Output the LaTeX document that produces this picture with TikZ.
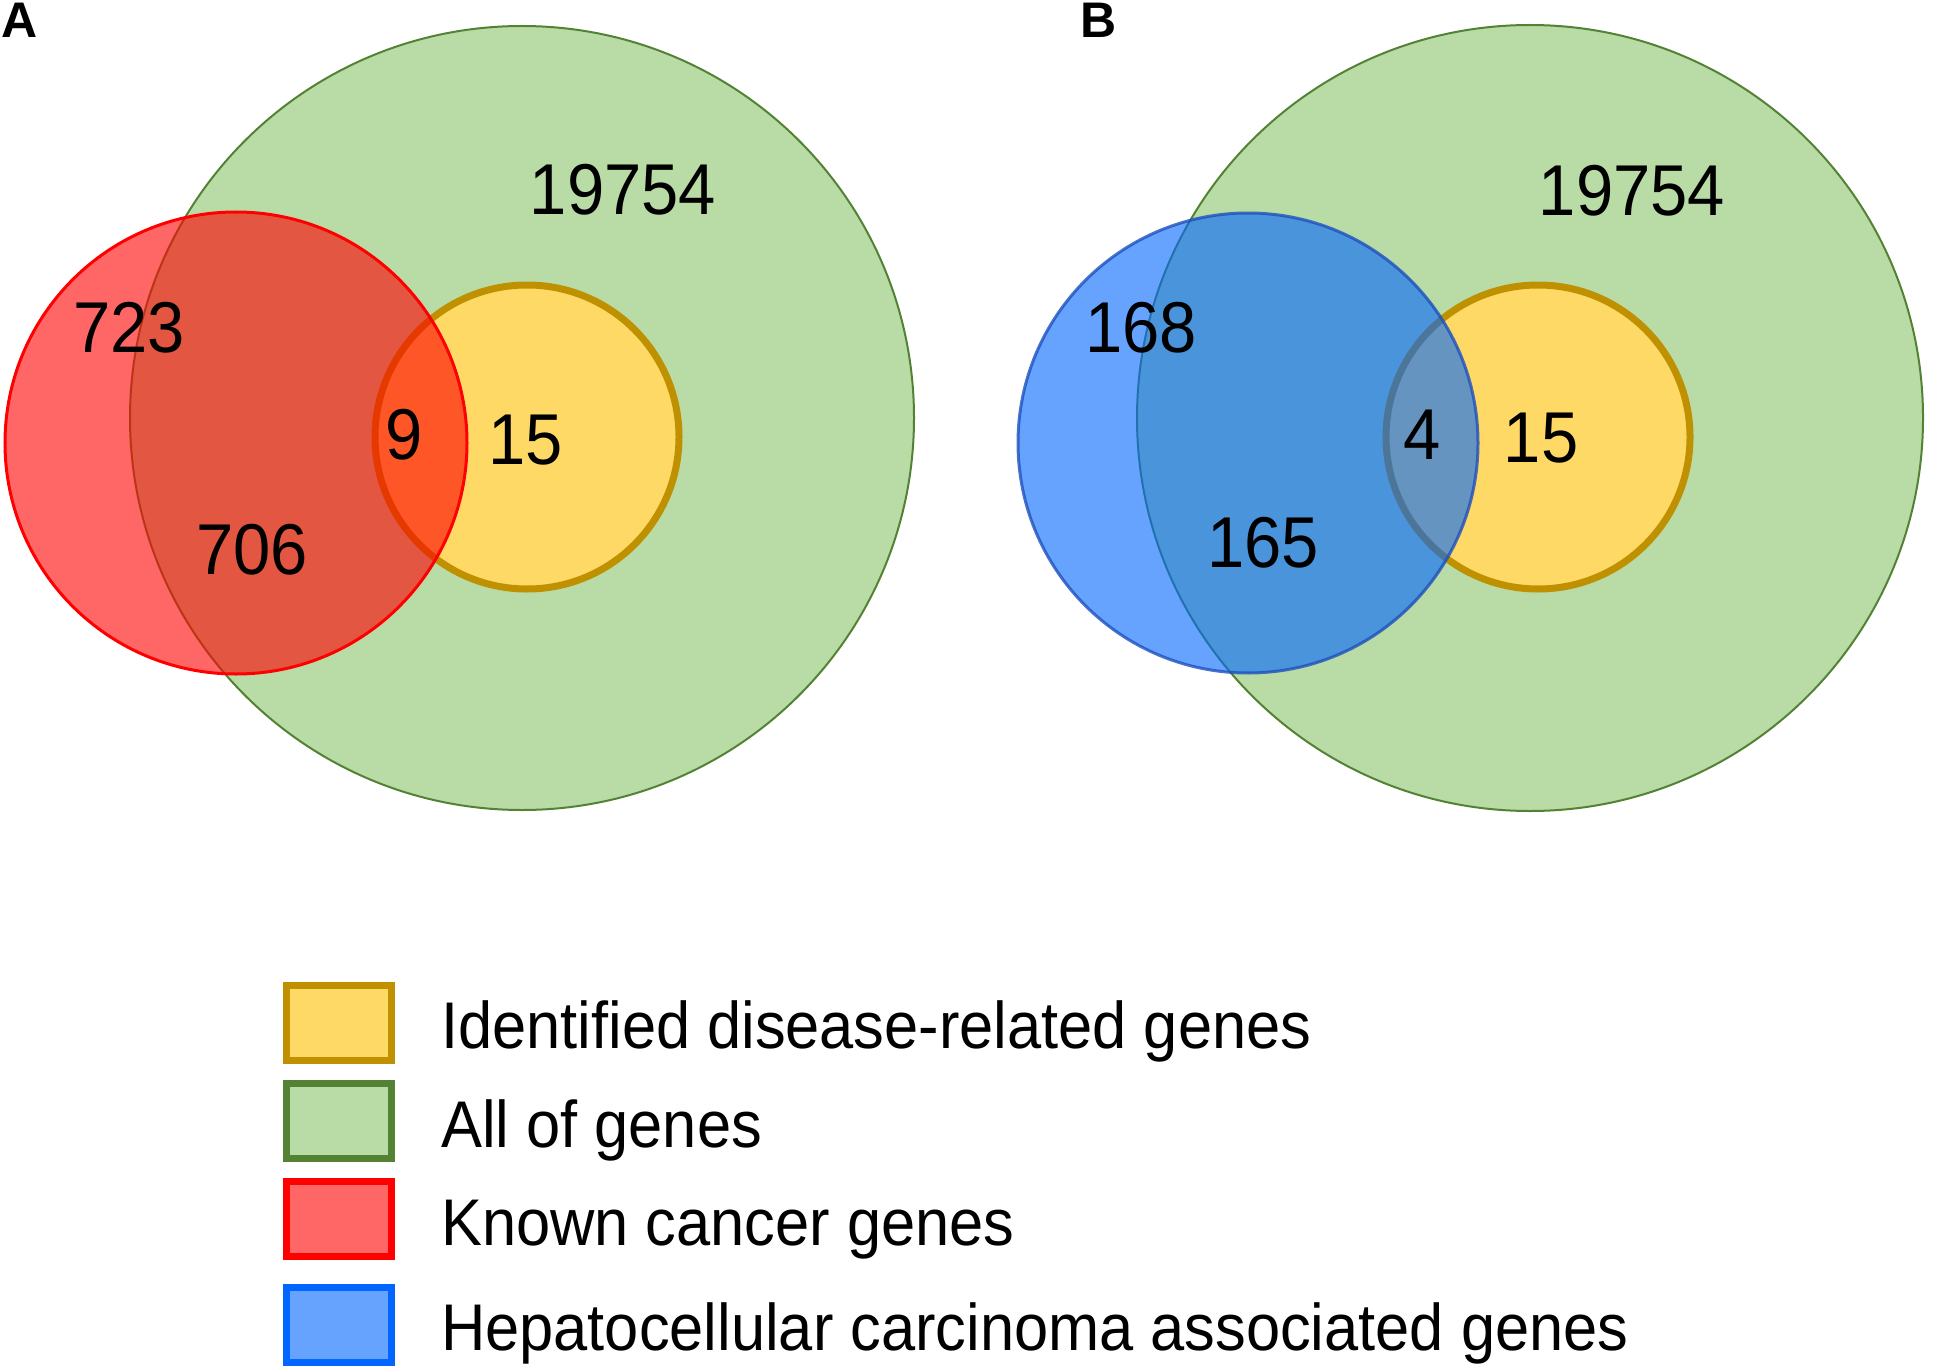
\documentclass[tikz,border=0pt]{standalone}
\usepackage{fontspec}
\setmainfont{Liberation Sans}[FakeStretch=0.93]
\newfontfamily\panelfont{Liberation Sans}
\usepackage{tikz}
\definecolor{all-color}{RGB}{185,219,166}
\definecolor{all-line}{RGB}{84,130,53}
\definecolor{found-color}{RGB}{255,217,102}
\definecolor{found-line}{RGB}{191,144,0}
\definecolor{cancer-color}{RGB}{255,0,0}
\definecolor{hcc-color}{RGB}{0,102,255}
\definecolor{hcc-line}{RGB}{30,80,190}

\tikzset{
  count/.style={inner sep=0pt, font=\fontsize{72}{80}\selectfont},
  panel/.style={inner sep=0pt, anchor=north west, font=\panelfont\bfseries\fontsize{50}{54}\selectfont},
  keytext/.style={inner sep=0pt, anchor=base west, font=\fontsize{66}{72}\selectfont},
  keybox/.style={line width=7pt}
}

\begin{document}
\begin{tikzpicture}[x=1pt,y=-1pt]
	\useasboundingbox (0,0) rectangle (1950,1372);

	% panel A
	\draw[all-line, line width=2pt, fill=all-color] (522,418) circle (392);
	\draw[found-line, line width=7pt, fill=found-color] (527,437) circle (152);
	\draw[cancer-color, line width=3pt, fill=cancer-color, fill opacity=0.6] (236,443) circle (231);
	\node[panel] (labelA) at (1,3) {A};
	\node[count] (allA) at (623,190) {19754};
	\node[count] (onlycancer) at (129,328) {723};
	\node[count] (bothA) at (404,435) {9};
	\node[count] (foundA) at (526,440) {15};
	\node[count] (restcancer) at (252,550) {706};

	% panel B
	\draw[all-line, line width=2pt, fill=all-color] (1530,418) circle (393);
	\draw[found-line, line width=7pt, fill=found-color] (1538,437) circle (152);
	\draw[hcc-line, line width=3pt, draw opacity=0.8, fill=hcc-color, fill opacity=0.6] (1248,443) circle (230);
	\node[panel] (labelB) at (1080,3) {B};
	\node[count] (allB) at (1632,191) {19754};
	\node[count] (onlyhcc) at (1141,328) {168};
	\node[count] (bothB) at (1422,435) {4};
	\node[count] (foundB) at (1541,438) {15};
	\node[count] (resthcc) at (1263,543) {165};

	% legend
	\draw[keybox, found-line, fill=found-color] (286,985) rectangle (391,1060);
	\node[keytext] (keyfound) at (441,1048) {Identified disease-related genes};

	\draw[keybox, all-line, fill=all-color] (286,1083) rectangle (391,1158);
	\node[keytext] (keyall) at (441,1147) {All of genes};

	\draw[keybox, cancer-color, fill=cancer-color!60] (286,1181) rectangle (391,1256);
	\node[keytext] (keycancer) at (441,1245) {Known cancer genes};

	\draw[keybox, hcc-color, fill=hcc-color!60] (286,1287) rectangle (391,1362);
	\node[keytext] (keyhcc) at (441,1350) {Hepatocellular carcinoma associated genes};
\end{tikzpicture}
\end{document}
